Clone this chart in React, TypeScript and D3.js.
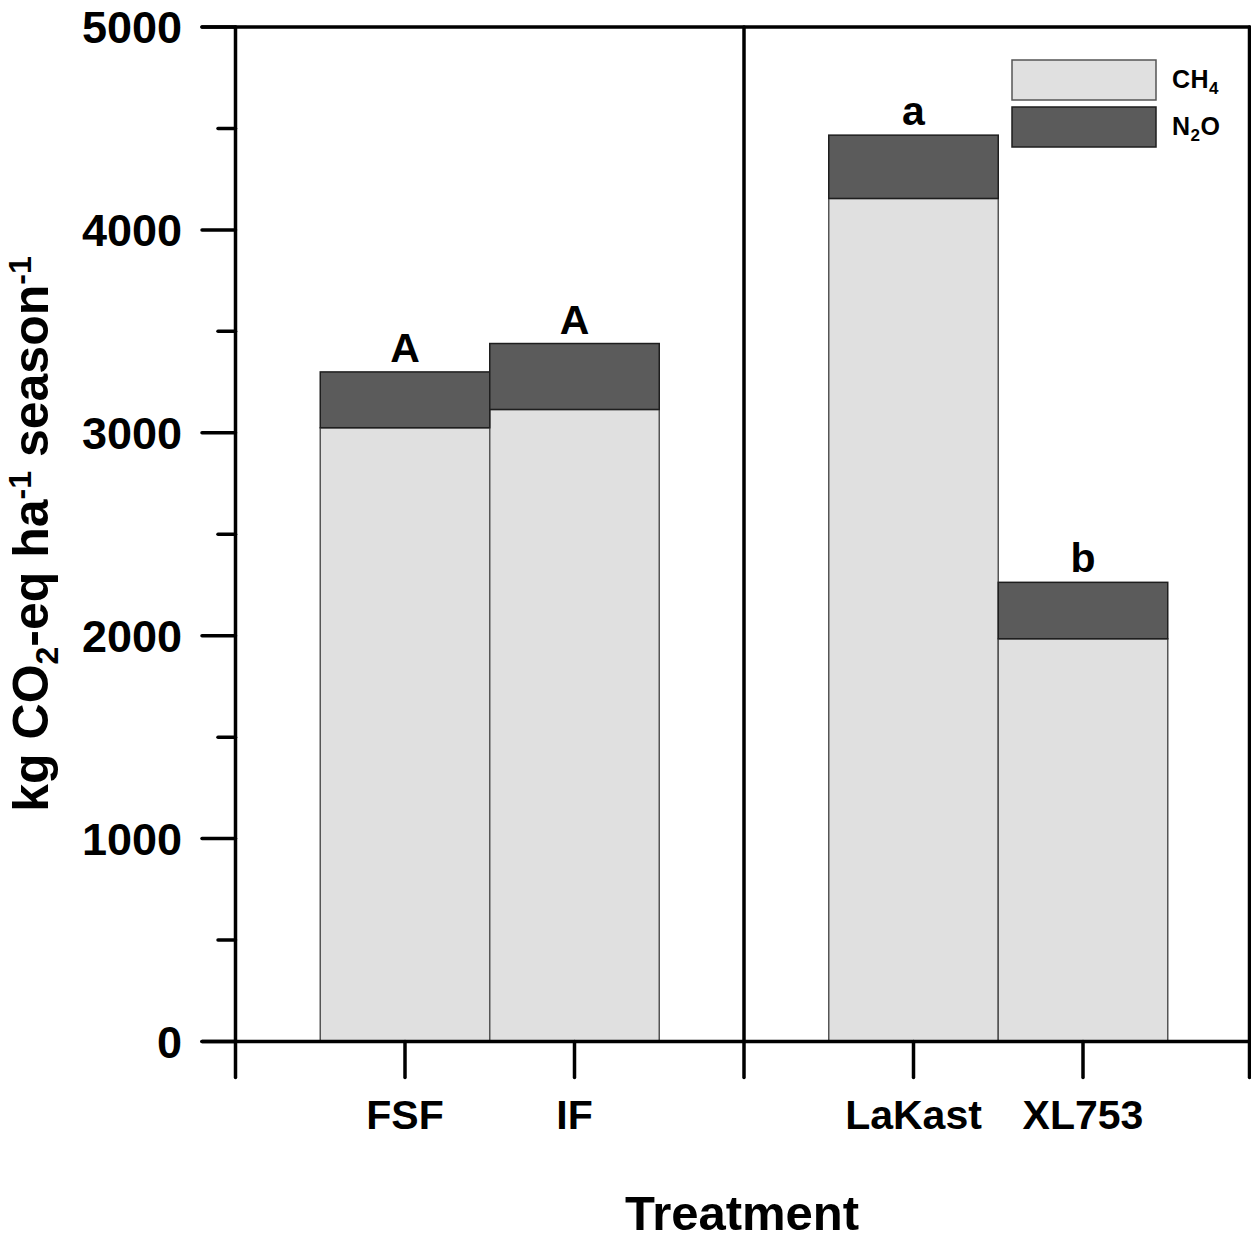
import React, { useRef, useEffect } from "react";
import * as d3 from "d3";

const panels = [
  ["FSF", "IF"],
  ["LaKast", "XL753"],
];
const treatments = ["FSF", "IF", "LaKast", "XL753"];
const ch4 = [3025, 3115, 4155, 1985];
const n2o = [275, 325, 312, 278];
const letters = ["A", "A", "a", "b"];
const seriesNames = ["CH4", "N2O"];

const W = 1251;
const H = 1243;
const FONT = "'Liberation Sans', Arial, Helvetica, sans-serif";

function App() {
  const svgRef = useRef<SVGSVGElement>(null);

  useEffect(() => {
    const svg = d3.select(svgRef.current);
    svg.selectAll("*").remove();

    const left = 235.5;
    const right = 1249.5;
    const top = 27;
    const bottom = 1041.5;
    const tickLen = 36;

    const y = d3.scaleLinear().domain([0, 5000]).range([bottom, top]);
    const xPanel = d3
      .scaleBand()
      .domain(panels.map((p, i) => String(i)))
      .range([left, right + 3]);

    // each panel is split in 3 steps, bars on the middle two
    const xInner = d3
      .scaleBand()
      .domain(["0", "1"])
      .range([0, xPanel.bandwidth()])
      .paddingInner(0)
      .paddingOuter(0.5);

    const xOf = (name: string) => {
      const pi = panels.findIndex((p) => p.includes(name));
      const ii = panels[pi].indexOf(name);
      return (xPanel(String(pi)) as number) + (xInner(String(ii)) as number);
    };

    const fill = { CH4: "#e0e0e0", N2O: "#5b5b5b" };
    const stroke = { CH4: "#555", N2O: "#1e1e1e" };

    const data = treatments.map((t, i) => ({ t, ch4: ch4[i], n2o: n2o[i], letter: letters[i] }));
    const stack = d3.stack().keys(["ch4", "n2o"])(data as any);

    // bars
    stack.forEach((layer, li) => {
      const key = seriesNames[li];
      svg
        .append("g")
        .selectAll("rect")
        .data(layer)
        .join("rect")
        .attr("x", (d: any) => xOf(d.data.t))
        .attr("width", xInner.bandwidth())
        .attr("y", (d: any) => y(d[1]))
        .attr("height", (d: any) => y(d[0]) - y(d[1]))
        .attr("fill", fill[key])
        .attr("stroke", stroke[key])
        .attr("stroke-width", 1.5);
    });

    // significance letters
    svg
      .append("g")
      .selectAll("text")
      .data(data)
      .join("text")
      .attr("x", (d) => xOf(d.t) + xInner.bandwidth() / 2)
      .attr("y", (d) => y(d.ch4 + d.n2o) - 10)
      .attr("text-anchor", "middle")
      .attr("font-family", FONT)
      .attr("font-weight", "bold")
      .attr("font-size", 41)
      .text((d) => d.letter);

    // frame
    const axis = svg.append("g").attr("stroke", "#000").attr("stroke-width", 3.5).attr("stroke-linecap", "round");
    axis.append("line").attr("x1", 202).attr("x2", right).attr("y1", top).attr("y2", top);
    axis.append("line").attr("x1", 202).attr("x2", right).attr("y1", bottom).attr("y2", bottom);
    const verticals = [left, xPanel("1") as number, right];
    verticals.forEach((vx) => {
      axis.append("line").attr("x1", vx).attr("x2", vx).attr("y1", top).attr("y2", bottom + tickLen);
    });

    // y ticks
    const major = y.ticks(5);
    const minor = y.ticks(10).filter((v) => !major.includes(v));
    major.forEach((v) => {
      axis.append("line").attr("x1", 202).attr("x2", left).attr("y1", y(v)).attr("y2", y(v));
    });
    minor.forEach((v) => {
      axis.append("line").attr("x1", 218).attr("x2", left).attr("y1", y(v)).attr("y2", y(v));
    });
    svg
      .append("g")
      .selectAll("text")
      .data(major)
      .join("text")
      .attr("x", 182)
      .attr("y", (v) => y(v))
      .attr("dy", "0.36em")
      .attr("text-anchor", "end")
      .attr("font-family", FONT)
      .attr("font-weight", "bold")
      .attr("font-size", 45)
      .text((v) => String(v));

    // x ticks + labels
    treatments.forEach((t) => {
      const cx = xOf(t) + xInner.bandwidth() / 2;
      axis.append("line").attr("x1", cx).attr("x2", cx).attr("y1", bottom).attr("y2", bottom + tickLen);
      svg
        .append("text")
        .attr("x", cx)
        .attr("y", 1129)
        .attr("text-anchor", "middle")
        .attr("font-family", FONT)
        .attr("font-weight", "bold")
        .attr("font-size", 41)
        .text(t);
    });

    // axis titles
    svg
      .append("text")
      .attr("x", 742)
      .attr("y", 1230)
      .attr("text-anchor", "middle")
      .attr("font-family", FONT)
      .attr("font-weight", "bold")
      .attr("font-size", 49)
      .text("Treatment");

    const yl = svg
      .append("text")
      .attr("transform", "translate(48,534) rotate(-90)")
      .attr("text-anchor", "middle")
      .attr("font-family", FONT)
      .attr("font-weight", "bold")
      .attr("font-size", 50);
    yl.append("tspan").text("kg CO");
    yl.append("tspan").attr("font-size", 32).attr("dy", 10).text("2");
    yl.append("tspan").attr("dy", -10).text("-eq ha");
    yl.append("tspan").attr("font-size", 32).attr("dy", -17).text("-1");
    yl.append("tspan").attr("dy", 17).text(" season");
    yl.append("tspan").attr("font-size", 32).attr("dy", -17).text("-1");

    // legend
    const lg = svg.append("g");
    const legendRows = [
      { key: "CH4", main: "CH", sub: "4", after: "" },
      { key: "N2O", main: "N", sub: "2", after: "O" },
    ];
    legendRows.forEach((r, i) => {
      const y0 = 60 + i * 47;
      lg.append("rect")
        .attr("x", 1012)
        .attr("y", y0)
        .attr("width", 144)
        .attr("height", 40)
        .attr("fill", fill[r.key])
        .attr("stroke", stroke[r.key])
        .attr("stroke-width", 1.5);
      const tx = lg
        .append("text")
        .attr("x", 1172)
        .attr("y", y0 + 28)
        .attr("font-family", FONT)
        .attr("font-weight", "bold")
        .attr("font-size", 25)
        .attr("letter-spacing", 0.5);
      tx.append("tspan").text(r.main);
      tx.append("tspan").attr("font-size", 17).attr("dy", 6).text(r.sub);
      if (r.after) tx.append("tspan").attr("dy", -6).text(r.after);
    });
  }, []);

  return (
    <svg
      ref={svgRef}
      width={W}
      height={H}
      style={{ position: "absolute", left: 0, top: 0, background: "#fff" }}
    />
  );
}

export default App;
